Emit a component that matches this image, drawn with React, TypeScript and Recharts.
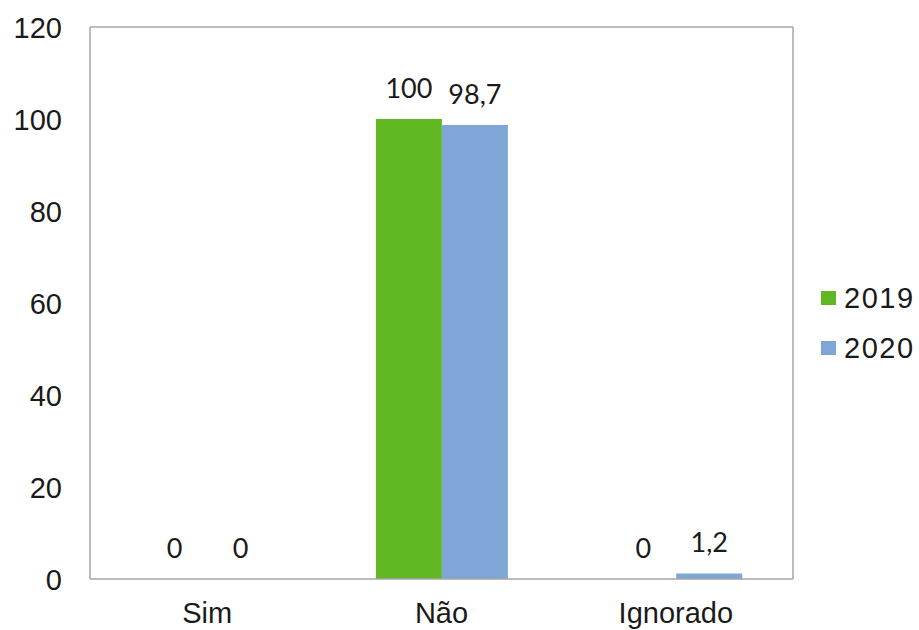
import React from 'react';
import {
    Bar,
    BarChart,
    CartesianGrid,
    LabelList,
    XAxis,
    YAxis,
} from 'recharts';

const categories = ['Sim', 'Não', 'Ignorado'];
const values2019 = [0, 100, 0];
const values2020 = [0, 98.7, 1.2];
const yTicks = [0, 20, 40, 60, 80, 100, 120];

const seriesInfo = [
    {key: '2019', color: '#60b721'},
    {key: '2020', color: '#7ea7d8'},
];

const chartData = categories.map((name, i) => ({
    name,
    '2019': values2019[i],
    '2020': values2020[i],
}));

const axisColor = '#a6a6a6';
const tickFamily = '"Liberation Sans", Arial, sans-serif';
const labelFamily = 'Lato, "Open Sans", sans-serif';

const formatValue = (v: any) => String(v).replace('.', ',');

const YTick = (props: any) => {
    const {x, y, payload} = props;
    return (
        <text x={x} y={y} dy={11} textAnchor='end' fontFamily={tickFamily} fontSize={29} fill='#1a1a1a'>
            {payload.value}
        </text>
    );
};

const XTick = (props: any) => {
    const {x, y, payload} = props;
    return (
        <text x={x} y={y} dy={44} textAnchor='middle' fontFamily={tickFamily} fontSize={29} fill='#1a1a1a'>
            {payload.value}
        </text>
    );
};

const BarValue = (props: any) => {
    const {x, y, width, height, value} = props;
    const top = Math.min(y, y + height);
    return (
        <text x={x + width / 2} y={top - 21} textAnchor='middle' fontFamily={labelFamily} fontSize={27} fill='#1a1a1a'>
            {formatValue(value)}
        </text>
    );
};

const LegendBox = () => (
    <div
        style={{
            position: 'absolute',
            left: 821,
            top: 273,
            fontFamily: tickFamily,
            fontSize: 29,
            letterSpacing: 1.5,
            color: '#1a1a1a',
        }}
    >
        {seriesInfo.map((s) => (
            <div key={s.key} style={{display: 'flex', alignItems: 'center', height: 50}}>
                <span style={{display: 'inline-block', width: 15, height: 14, background: s.color, marginRight: 8}} />
                <span>{s.key}</span>
            </div>
        ))}
    </div>
);

const App: React.FC = () => {
    return (
        <div style={{position: 'absolute', left: 0, top: 0, width: 919, height: 630}}>
            <BarChart
                width={919}
                height={630}
                data={chartData}
                margin={{top: 27, right: 126, bottom: 0, left: 0}}
                barCategoryGap='22%'
                barGap={0}
            >
                <CartesianGrid
                    stroke={axisColor}
                    strokeWidth={1.5}
                    horizontalCoordinatesGenerator={({offset}: any) => [offset.top]}
                    verticalCoordinatesGenerator={({offset}: any) => [offset.left + offset.width]}
                />
                <XAxis
                    dataKey='name'
                    height={51}
                    tickLine={false}
                    tickSize={0}
                    tickMargin={0}
                    axisLine={{stroke: axisColor, strokeWidth: 1.5}}
                    tick={<XTick />}
                />
                <YAxis
                    width={90}
                    domain={[0, 120]}
                    ticks={yTicks}
                    tickLine={false}
                    tickSize={0}
                    tickMargin={28}
                    axisLine={{stroke: axisColor, strokeWidth: 1.5}}
                    tick={<YTick />}
                />
                {seriesInfo.map((s) => (
                    <Bar key={s.key} dataKey={s.key} fill={s.color} minPointSize={0.01} isAnimationActive={false}>
                        <LabelList dataKey={s.key} content={<BarValue />} />
                    </Bar>
                ))}
            </BarChart>
            <LegendBox />
        </div>
    );
};

export default App;
